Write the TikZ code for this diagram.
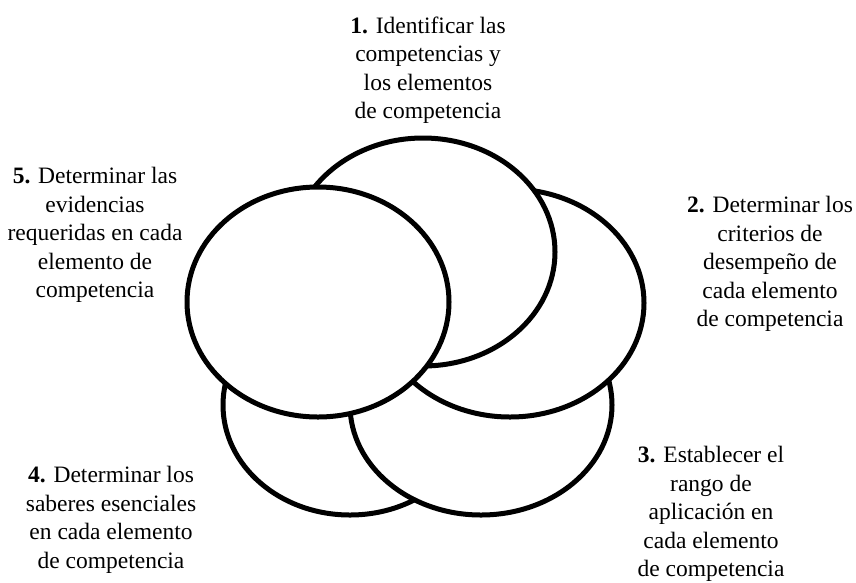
\documentclass[tikz,border=0pt]{standalone}
\usepackage{fontspec}
\setmainfont{Liberation Serif}
\begin{document}
\begin{tikzpicture}[x=1pt,y=-1pt,
  petal/.style={draw=black,fill=white,line width=5pt},
  label/.style={align=center,inner sep=0pt,font=\fontsize{23.5}{28.5}\selectfont}]
\useasboundingbox (0,0) rectangle (856,582);
% stacking order bottom to top: 4, 3, 2, 1, 5
\draw[petal] (350,405) ellipse (127 and 110);
\draw[petal] (481,405) ellipse (131 and 110);
\draw[petal] (510,303) ellipse (134 and 114);
\draw[petal] (423,252) ellipse (132 and 114);
\draw[petal] (318,302) ellipse (131 and 115);
\node[label] (t1) at (428,70) {\textbf{1.} Identificar las\\competencias y\\los elementos\\de competencia};
\node[label] (t2) at (770,264) {\textbf{2.} Determinar los\\criterios de\\desempeño de\\cada elemento\\de competencia};
\node[label] (t3) at (711,514) {\textbf{3.} Establecer el\\rango de\\aplicación en\\cada elemento\\de competencia};
\node[label] (t4) at (111,520) {\textbf{4.} Determinar los\\saberes esenciales\\en cada elemento\\de competencia};
\node[label] (t5) at (95,235) {\textbf{5.} Determinar las\\evidencias\\requeridas en cada\\elemento de\\competencia};
\end{tikzpicture}
\end{document}
